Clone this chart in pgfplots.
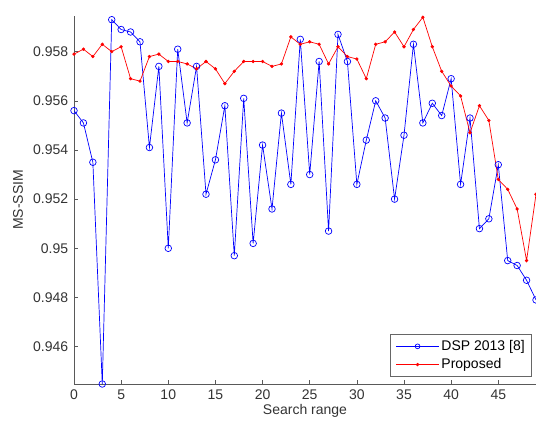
\documentclass[border=0pt]{standalone}
\usepackage{fontspec}
\setmainfont{Liberation Sans}
\usepackage{pgfplots}
\pgfplotsset{compat=1.18}

\pgfplotstableread{
x dsp prop
0 0.9556 0.9579
1 0.9551 0.9581
2 0.9535 0.9578
3 0.94448 0.9583
4 0.9593 0.9580
5 0.9589 0.9582
6 0.9588 0.9569
7 0.9584 0.9568
8 0.9541 0.9578
9 0.9574 0.9579
10 0.9500 0.9576
11 0.9581 0.9576
12 0.9551 0.9575
13 0.9574 0.9573
14 0.9522 0.9576
15 0.9536 0.9573
16 0.9558 0.9567
17 0.9497 0.9572
18 0.9561 0.9576
19 0.9502 0.9576
20 0.9542 0.9576
21 0.9516 0.9574
22 0.9555 0.9575
23 0.9526 0.9586
24 0.9585 0.9583
25 0.9530 0.9584
26 0.9576 0.9583
27 0.9507 0.9575
28 0.9587 0.9582
29 0.9576 0.9578
30 0.9526 0.9577
31 0.9544 0.9569
32 0.9560 0.9583
33 0.9553 0.9584
34 0.9520 0.9588
35 0.9546 0.9582
36 0.9583 0.9589
37 0.9551 0.9594
38 0.9559 0.9582
39 0.9554 0.9572
40 0.9569 0.9566
41 0.9526 0.9562
42 0.9553 0.9547
43 0.9508 0.9558
44 0.9512 0.9552
45 0.9534 0.9528
46 0.9495 0.9524
47 0.9493 0.9516
48 0.9487 0.9495
49 0.9479 0.9522
}\msssim

\begin{document}
\fontsize{14}{16}\selectfont
\begin{tikzpicture}
\useasboundingbox (0,0) rectangle (536pt,421pt);
\begin{axis}[
    at={(74pt,37pt)}, anchor=south west,
    scale only axis,
    width=462pt, height=368pt,
    xmin=0, xmax=49,
    ymin=0.94448, ymax=0.95945,
    axis lines*=left,
    axis line style={black!65, line width=0.8pt},
    tick style={black!65, line width=0.6pt},
    tick align=inside,
    major tick length=4pt,
    xtick={0,5,...,45},
    ytick={0.946,0.948,0.950,0.952,0.954,0.956,0.958},
    yticklabels={0.946,0.948,0.95,0.952,0.954,0.956,0.958},
    /pgf/number format/assume math mode=true,
    ticklabel style={font=\fontsize{14}{16}\selectfont, text=black!80},
    xticklabel style={yshift=-1pt},
    yticklabel style={xshift=-1pt},
    xlabel={Search range},
    ylabel={MS-SSIM},
    every axis x label/.style={at={(axis description cs:0.5,0)}, yshift=-27pt, anchor=center, font=\fontsize{14}{16}\selectfont, text=black!80},
    every axis y label/.style={at={(axis description cs:0,0.5)}, xshift=-56pt, rotate=90, anchor=center, font=\fontsize{14}{16}\selectfont, text=black!80},
    legend style={at={(1,0)}, anchor=south east, xshift=-4pt, yshift=7pt,
        draw=black!60, line width=0.6pt, font=\fontsize{14}{16}\selectfont,
        inner xsep=5pt, inner ysep=4pt, row sep=2pt, cells={anchor=west}},
]
\addplot[blue, line width=0.7pt, mark=o, mark size=3.3pt, mark options={line width=0.7pt},
    legend image code/.code={
        \draw[draw=blue, line width=0.7pt] (0pt,0pt) -- (43pt,0pt);
        \draw[draw=blue, line width=0.7pt] (21.5pt,0pt) circle (2.4pt);
    }]
    table[x=x, y=dsp] {\msssim};
\addlegendentry{DSP 2013 [8]}
\addplot[red, line width=0.7pt, mark=*, mark size=1.3pt,
    legend image code/.code={
        \draw[draw=red, line width=0.7pt] (0pt,0pt) -- (43pt,0pt);
        \fill[red] (21.5pt,0pt) circle (1.3pt);
    }]
    table[x=x, y=prop] {\msssim};
\addlegendentry{Proposed}
\end{axis}
\end{tikzpicture}
\end{document}
